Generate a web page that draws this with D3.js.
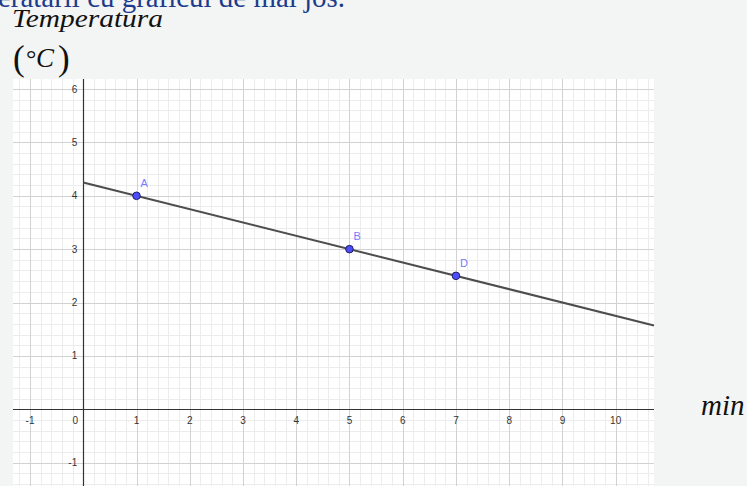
<!DOCTYPE html>
<html><head><meta charset="utf-8">
<script src="https://cdn.jsdelivr.net/npm/d3@7"></script>
<style>html,body{margin:0;padding:0;background:#f3f4f4;overflow:hidden}</style>
</head><body>
<svg id="c" width="747" height="486"></svg>
<script>
const pointNames = ["A", "B", "D"];
const pointX = [1, 5, 7];
const pointY = [4, 3, 2.5];
const lineX = [0, 10.72];
const lineY = [4.25, 1.57];
const xTicks = [-1, 0, 1, 2, 3, 4, 5, 6, 7, 8, 9, 10];
const yTicks = [-1, 1, 2, 3, 4, 5, 6];
const xDomain = [-1.32, 10.72];
const yDomain = [-1.44, 6.19];

const svg = d3.select("#c");
const L = 13, R = 654, T = 79, B = 486;
const x = d3.scaleLinear().domain(xDomain).range([L, R]);
const y = d3.scaleLinear().domain(yDomain).range([B, T]);
const serif = "Liberation Serif, Times New Roman, serif";

svg.append("text").attr("x", -2).attr("y", 7)
  .attr("font-family", serif).attr("font-size", 29).attr("fill", "#1d3b8b")
  .attr("textLength", 347).attr("lengthAdjust", "spacingAndGlyphs")
  .text("eratarii cu graficul de mai jos.");

svg.append("rect").attr("x", L).attr("y", T).attr("width", R - L).attr("height", B - T).attr("fill", "#fff");

const g = svg.append("g");
const minorX = d3.range(Math.ceil(xDomain[0] * 5), Math.floor(xDomain[1] * 5) + 1).map(d => d / 5);
const minorY = d3.range(Math.ceil(yDomain[0] * 5), Math.floor(yDomain[1] * 5) + 1).map(d => d / 5);
g.selectAll(".mx").data(minorX).join("line")
  .attr("x1", d => Math.round(x(d)) + 0.5).attr("x2", d => Math.round(x(d)) + 0.5)
  .attr("y1", T).attr("y2", B).attr("stroke", "#ececec").attr("stroke-width", 1);
g.selectAll(".my").data(minorY).join("line")
  .attr("y1", d => Math.round(y(d)) + 0.5).attr("y2", d => Math.round(y(d)) + 0.5)
  .attr("x1", L).attr("x2", R).attr("stroke", "#ececec").attr("stroke-width", 1);
const majorX = d3.range(Math.ceil(xDomain[0]), Math.floor(xDomain[1]) + 1);
const majorY = d3.range(Math.ceil(yDomain[0]), Math.floor(yDomain[1]) + 1);
g.selectAll(".Mx").data(majorX).join("line")
  .attr("x1", d => Math.round(x(d)) + 0.5).attr("x2", d => Math.round(x(d)) + 0.5)
  .attr("y1", T).attr("y2", B).attr("stroke", "#d2d2d2").attr("stroke-width", 1);
g.selectAll(".My").data(majorY).join("line")
  .attr("y1", d => Math.round(y(d)) + 0.5).attr("y2", d => Math.round(y(d)) + 0.5)
  .attr("x1", L).attr("x2", R).attr("stroke", "#d2d2d2").attr("stroke-width", 1);

g.append("line").attr("x1", L).attr("x2", R).attr("y1", Math.round(y(0)) + 0.5).attr("y2", Math.round(y(0)) + 0.5)
  .attr("stroke", "#333").attr("stroke-width", 1.2);
g.append("line").attr("y1", T).attr("y2", B).attr("x1", Math.round(x(0)) + 0.5).attr("x2", Math.round(x(0)) + 0.5)
  .attr("stroke", "#333").attr("stroke-width", 1.2);

const lab = svg.append("g").attr("font-family", "Liberation Sans, Arial, sans-serif").attr("font-size", 10).attr("fill", "#333");
lab.selectAll(".xl").data(xTicks).join("text")
  .attr("x", d => d === 0 ? x(0) - 8 : x(d)).attr("y", y(0) + 15)
  .attr("text-anchor", "middle").text(d => d < 0 ? "-" + (-d) : d);
lab.selectAll(".yl").data(yTicks).join("text")
  .attr("x", x(0) - 6).attr("y", d => y(d) + 3.5)
  .attr("text-anchor", "end").text(d => d < 0 ? "-" + (-d) : d);

svg.append("line")
  .attr("x1", x(lineX[0])).attr("y1", y(lineY[0]))
  .attr("x2", x(lineX[1])).attr("y2", y(lineY[1]))
  .attr("stroke", "#4d4d4d").attr("stroke-width", 2);

const pts = pointNames.map((n, i) => ({n, x: pointX[i], y: pointY[i]}));
svg.selectAll(".pt").data(pts).join("circle")
  .attr("cx", d => x(d.x)).attr("cy", d => y(d.y)).attr("r", 3.8)
  .attr("fill", "#4d4dff").attr("stroke", "#1f1f5f").attr("stroke-width", 1);
svg.selectAll(".pl").data(pts).join("text")
  .attr("x", d => x(d.x) + 4).attr("y", d => y(d.y) - 9)
  .attr("font-family", "Liberation Sans, Arial, sans-serif").attr("font-size", 11).attr("fill", "#7a7aff")
  .text(d => d.n);

svg.append("text").attr("x", 12).attr("y", 27).attr("font-family", serif).attr("font-style", "italic")
  .attr("font-size", 26).attr("fill", "#111")
  .attr("textLength", 151).attr("lengthAdjust", "spacingAndGlyphs").text("Temperatura");
const u = svg.append("g").attr("font-family", serif).attr("fill", "#111");
u.append("text").attr("x", 13).attr("y", 70).attr("font-size", 35).text("(");
u.append("text").attr("x", 26).attr("y", 67).attr("font-size", 26).text("°");
u.append("text").attr("x", 36).attr("y", 67).attr("font-size", 27).attr("font-style", "italic").text("C");
u.append("text").attr("x", 58).attr("y", 70).attr("font-size", 35).text(")");
svg.append("text").attr("x", 701).attr("y", 415).attr("font-family", serif).attr("font-style", "italic")
  .attr("font-size", 29).attr("fill", "#111").text("min");
</script>
</body></html>
